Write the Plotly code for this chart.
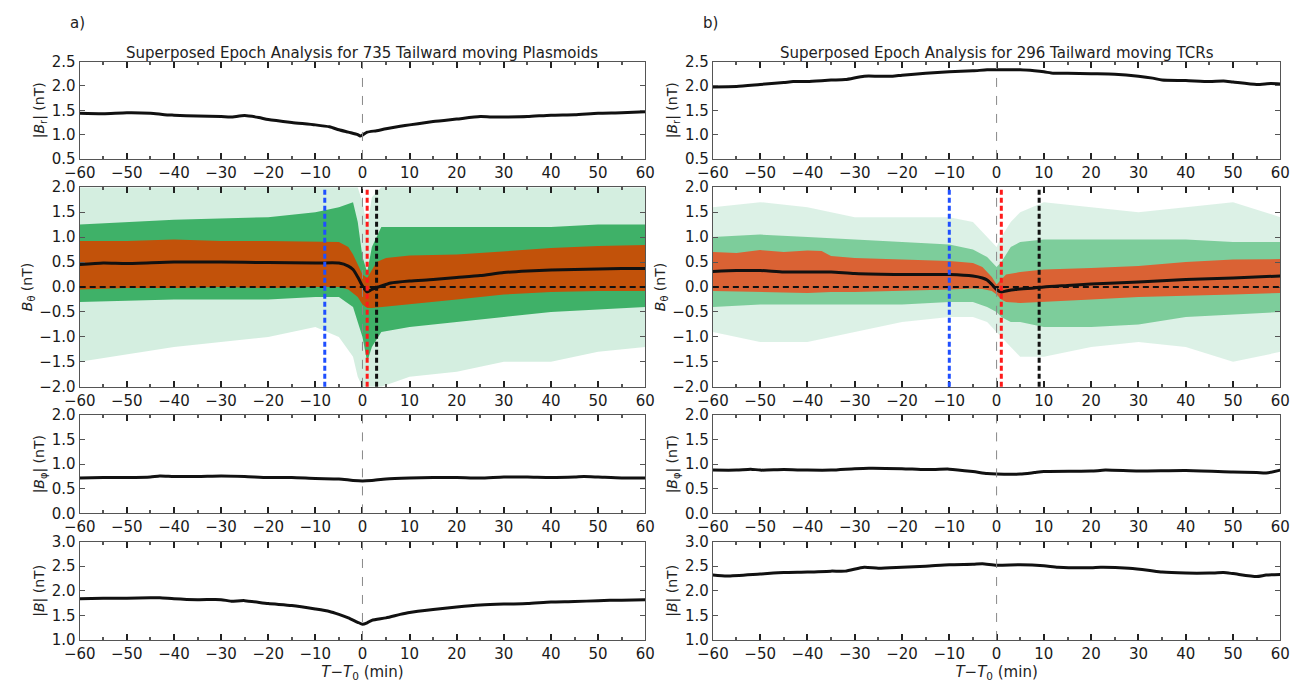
import plotly.graph_objects as go

W, H = 1306, 685

# ---------------- data ----------------
# Column a) 735 plasmoids
a_br_x = [-60, -55, -50, -45, -42, -40, -35, -30, -28, -25, -22, -20, -15, -10, -7, -5, -3, -1, -0.5, 0, 1, 3, 5, 8, 10, 15, 20, 25, 28, 30, 35, 40, 45, 50, 55, 60]
a_br_y = [1.44, 1.43, 1.45, 1.44, 1.41, 1.40, 1.38, 1.37, 1.36, 1.39, 1.35, 1.31, 1.25, 1.20, 1.16, 1.10, 1.05, 1.00, 0.97, 0.99, 1.05, 1.08, 1.12, 1.17, 1.20, 1.27, 1.32, 1.37, 1.36, 1.36, 1.37, 1.40, 1.41, 1.44, 1.45, 1.47]

a_bt_x = [-60, -55, -50, -40, -30, -20, -10, -5, -3, -2, -1, 0, 0.5, 1, 2, 4, 6, 10, 15, 20, 25, 30, 35, 40, 45, 50, 55, 60]
a_bt_med = [0.45, 0.48, 0.47, 0.50, 0.50, 0.49, 0.48, 0.48, 0.42, 0.35, 0.20, 0.02, -0.05, -0.10, -0.05, 0.02, 0.08, 0.12, 0.15, 0.19, 0.23, 0.29, 0.32, 0.34, 0.35, 0.36, 0.37, 0.37]

a_q_x = [-60, -50, -40, -30, -20, -10, -5, -3, -2, -1, 0, 1, 2, 3, 5, 10, 20, 30, 40, 50, 60]
a_q_hi = [0.92, 0.92, 0.95, 0.92, 0.92, 0.90, 0.90, 0.80, 0.65, 0.45, 0.25, 0.18, 0.35, 0.50, 0.58, 0.63, 0.65, 0.72, 0.78, 0.82, 0.84]
a_q_lo = [-0.05, -0.02, -0.02, 0.00, -0.02, 0.00, 0.00, -0.05, -0.12, -0.20, -0.35, -0.42, -0.42, -0.42, -0.40, -0.35, -0.25, -0.15, -0.10, -0.08, -0.08]

a_g_x = [-60, -40, -20, -10, -5, -2, -1, 0, 1, 2, 4, 10, 20, 30, 40, 50, 60]
a_g_hi = [1.25, 1.35, 1.40, 1.50, 1.60, 1.70, 1.30, 0.60, 0.30, 0.80, 1.20, 1.20, 1.20, 1.20, 1.20, 1.25, 1.25]
a_g_lo = [-0.30, -0.25, -0.25, -0.20, -0.20, -0.40, -0.70, -1.00, -1.50, -1.20, -0.90, -0.80, -0.70, -0.60, -0.50, -0.45, -0.40]
a_s_hi = [2.00, 2.00, 2.00, 2.00, 2.00, 2.00, 2.00, 1.70, 1.20, 1.80, 2.00, 2.00, 2.00, 2.00, 2.00, 2.00, 2.00]
a_s_lo = [-1.50, -1.20, -1.00, -0.80, -1.00, -1.40, -1.80, -2.00, -2.00, -2.00, -2.00, -1.80, -1.70, -1.50, -1.50, -1.30, -1.20]

a_bp_x = [-60, -55, -50, -45, -43, -40, -35, -30, -25, -20, -15, -10, -5, -2, 0, 2, 5, 10, 15, 20, 25, 30, 35, 40, 45, 47, 50, 55, 60]
a_bp_y = [0.72, 0.73, 0.73, 0.74, 0.76, 0.75, 0.75, 0.76, 0.75, 0.73, 0.73, 0.71, 0.70, 0.67, 0.66, 0.67, 0.70, 0.72, 0.73, 0.73, 0.72, 0.74, 0.74, 0.73, 0.74, 0.75, 0.74, 0.72, 0.72]

a_b_x = [-60, -55, -50, -45, -43, -40, -35, -30, -28, -25, -20, -15, -10, -7, -5, -3, -1, 0, 1, 2, 5, 8, 10, 15, 20, 25, 30, 35, 40, 45, 50, 55, 60]
a_b_y = [1.84, 1.85, 1.85, 1.86, 1.86, 1.84, 1.82, 1.82, 1.79, 1.80, 1.74, 1.70, 1.63, 1.58, 1.52, 1.45, 1.36, 1.32, 1.35, 1.40, 1.45, 1.52, 1.56, 1.62, 1.67, 1.71, 1.73, 1.74, 1.77, 1.78, 1.80, 1.81, 1.82]

a_epochs = [-8, 1, 3]

# Column b) 296 TCRs
b_br_x = [-60, -55, -50, -45, -43, -40, -35, -32, -28, -25, -22, -20, -15, -10, -5, -2, 0, 5, 8, 10, 12, 15, 20, 25, 30, 33, 35, 40, 45, 48, 50, 55, 58, 60]
b_br_y = [1.98, 1.99, 2.03, 2.07, 2.09, 2.09, 2.12, 2.13, 2.20, 2.20, 2.20, 2.22, 2.26, 2.29, 2.31, 2.33, 2.33, 2.33, 2.31, 2.29, 2.26, 2.26, 2.25, 2.24, 2.20, 2.16, 2.12, 2.11, 2.09, 2.10, 2.08, 2.03, 2.05, 2.04]

b_bt_x = [-60, -55, -50, -45, -40, -35, -30, -20, -10, -5, -3, -2, -1, 0, 1, 2, 4, 8, 10, 15, 20, 30, 40, 50, 60]
b_bt_med = [0.31, 0.33, 0.33, 0.30, 0.30, 0.30, 0.27, 0.25, 0.25, 0.22, 0.18, 0.14, 0.05, -0.05, -0.10, -0.08, -0.05, -0.02, 0.00, 0.03, 0.06, 0.10, 0.15, 0.18, 0.22]

b_q_x = [-60, -55, -50, -45, -40, -37, -35, -30, -20, -10, -5, -3, -1, 0, 1, 2, 5, 10, 20, 30, 40, 50, 60]
b_q_hi = [0.70, 0.68, 0.74, 0.70, 0.73, 0.72, 0.62, 0.58, 0.55, 0.52, 0.48, 0.40, 0.20, 0.05, 0.15, 0.25, 0.30, 0.35, 0.38, 0.42, 0.50, 0.55, 0.56]
b_q_lo = [-0.08, -0.09, -0.10, -0.11, -0.12, -0.11, -0.10, -0.10, -0.08, -0.05, -0.03, -0.04, -0.08, -0.15, -0.25, -0.30, -0.32, -0.30, -0.25, -0.20, -0.18, -0.15, -0.12]

b_g_x = [-60, -50, -40, -30, -20, -10, -5, -2, 0, 1, 3, 5, 10, 20, 30, 40, 50, 60]
b_g_hi = [1.00, 1.05, 1.00, 0.95, 0.90, 0.85, 0.75, 0.60, 0.40, 0.50, 0.80, 0.90, 0.95, 0.95, 0.95, 0.95, 0.90, 0.90]
b_g_lo = [-0.40, -0.35, -0.35, -0.35, -0.35, -0.30, -0.30, -0.40, -0.50, -0.60, -0.70, -0.70, -0.80, -0.80, -0.75, -0.60, -0.55, -0.50]
b_s_hi = [1.60, 1.70, 1.60, 1.40, 1.40, 1.40, 1.30, 1.00, 0.80, 1.00, 1.30, 1.50, 1.70, 1.60, 1.50, 1.60, 1.70, 1.40]
b_s_lo = [-0.90, -1.10, -1.10, -0.90, -0.70, -0.60, -0.60, -0.70, -0.90, -1.00, -1.20, -1.40, -1.40, -1.20, -1.10, -1.20, -1.50, -1.30]

b_bp_x = [-60, -55, -52, -50, -45, -40, -35, -30, -27, -20, -15, -10, -5, -2, 0, 5, 8, 10, 20, 23, 30, 40, 50, 55, 57, 60]
b_bp_y = [0.88, 0.88, 0.90, 0.88, 0.89, 0.88, 0.88, 0.91, 0.92, 0.91, 0.89, 0.90, 0.85, 0.81, 0.80, 0.80, 0.83, 0.85, 0.86, 0.88, 0.86, 0.87, 0.84, 0.83, 0.82, 0.88]

b_b_x = [-60, -57, -50, -45, -40, -35, -32, -28, -25, -20, -15, -10, -5, -3, 0, 5, 10, 13, 20, 22, 28, 32, 35, 40, 45, 48, 50, 55, 57, 60]
b_b_y = [2.32, 2.30, 2.34, 2.37, 2.38, 2.40, 2.40, 2.48, 2.46, 2.48, 2.50, 2.53, 2.54, 2.55, 2.52, 2.53, 2.51, 2.48, 2.47, 2.48, 2.46, 2.42, 2.38, 2.36, 2.36, 2.37, 2.35, 2.29, 2.32, 2.33]

b_epochs = [-10, 1, 9]

titles = ["Superposed Epoch Analysis for 735 Tailward moving Plasmoids",
          "Superposed Epoch Analysis for 296 Tailward moving TCRs"]
panel_labels = ["a)", "b)"]
y_titles = ["|<i>B</i><sub>r</sub>| (nT)", "<i>B</i><sub>θ</sub> (nT)",
            "|<i>B</i><sub>φ</sub>| (nT)", "|<i>B</i>| (nT)"]
y_ranges = [[0.5, 2.5], [-2.0, 2.0], [0.0, 2.0], [1.0, 3.0]]
x_title = "<i>T</i>−<i>T</i><sub>0</sub> (min)"
epoch_colors = ["#1f4fff", "#ff1a1a", "#111111"]

# ---------------- layout geometry (pixels) ----------------
col_px = [(65, 642), (711, 1290)]
row_px = [(54, 154), (183, 388), (417, 518), (547, 648)]

FONT = "DejaVu Sans"
fig = go.Figure()
layout = dict(
    width=W, height=H, margin=dict(l=0, r=0, t=0, b=0),
    paper_bgcolor="white", plot_bgcolor="white", showlegend=False,
    font=dict(family=FONT, size=14, color="#222"),
)

def ax_id(c, r):
    return c * 4 + r + 1

for c in range(2):
    for r in range(4):
        i = ax_id(c, r)
        xa = "xaxis" if i == 1 else f"xaxis{i}"
        ya = "yaxis" if i == 1 else f"yaxis{i}"
        x0, x1 = col_px[c]
        y0, y1 = row_px[r]
        layout[xa] = dict(
            domain=[x0 / W, x1 / W], anchor=f"y{i}" if i > 1 else "y",
            range=[-60, 60], tickmode="linear", tick0=-60, dtick=10,
            ticks="inside", ticklen=6, tickwidth=1.5, tickcolor="#222",
            mirror="allticks", showline=True, linecolor="#555", linewidth=1.2,
            showgrid=False, zeroline=False,
            tickfont=dict(family=FONT, size=15, color="#1a1a1a"),
            minor=dict(ticks="inside", ticklen=3, dtick=5, tick0=-60, tickcolor="#555", showgrid=False),
            title=dict(text=x_title if r == 3 else "", font=dict(family=FONT, size=15, color="#222"), standoff=2),
        )
        layout[ya] = dict(
            domain=[1 - y1 / H, 1 - y0 / H], anchor=f"x{i}" if i > 1 else "x",
            range=y_ranges[r], dtick=0.5, ticks="inside", ticklen=5, tickwidth=1,
            tickcolor="#555", mirror="allticks", showline=True, linecolor="#555", linewidth=1.2,
            showgrid=False, zeroline=False, tickformat=".1f",
            tickfont=dict(family=FONT, size=15, color="#1a1a1a"),
            title=dict(text=y_titles[r], font=dict(family=FONT, size=14, color="#222"), standoff=3),
        )

def band(xs, lo, hi, color, xref, yref):
    fig.add_trace(go.Scatter(
        x=list(xs) + list(xs)[::-1], y=list(hi) + list(lo)[::-1],
        fill="toself", fillcolor=color, line=dict(width=0), mode="lines",
        xaxis=xref, yaxis=yref, hoverinfo="skip"))

def line(xs, ys, xref, yref, width=3):
    fig.add_trace(go.Scatter(x=xs, y=ys, mode="lines", line=dict(color="#111", width=width, shape="spline", smoothing=0.6),
                             xaxis=xref, yaxis=yref))

cols = [
    dict(br=(a_br_x, a_br_y), bt=(a_bt_x, a_bt_med), q=(a_q_x, a_q_lo, a_q_hi),
         g=(a_g_x, a_g_lo, a_g_hi, a_s_lo, a_s_hi), bp=(a_bp_x, a_bp_y), b=(a_b_x, a_b_y),
         ep=a_epochs, orange="rgba(194,82,10,1)", dense="rgba(20,160,70,0.78)", sparse="rgba(40,170,100,0.20)"),
    dict(br=(b_br_x, b_br_y), bt=(b_bt_x, b_bt_med), q=(b_q_x, b_q_lo, b_q_hi),
         g=(b_g_x, b_g_lo, b_g_hi, b_s_lo, b_s_hi), bp=(b_bp_x, b_bp_y), b=(b_b_x, b_b_y),
         ep=b_epochs, orange="rgba(218,98,52,1)", dense="rgba(30,170,80,0.50)", sparse="rgba(40,170,100,0.16)"),
]

shapes = []
annotations = []
for c, d in enumerate(cols):
    ids = [ax_id(c, r) for r in range(4)]
    refs = [("x" if i == 1 else f"x{i}", "y" if i == 1 else f"y{i}") for i in ids]
    line(*d["br"], *refs[0])
    gx, glo, ghi, slo, shi = d["g"]
    band(gx, slo, shi, d["sparse"], *refs[1])
    band(gx, glo, ghi, d["dense"], *refs[1])
    qx, qlo, qhi = d["q"]
    band(qx, qlo, qhi, d["orange"], *refs[1])
    line(*d["bt"], *refs[1])
    line(*d["bp"], *refs[2])
    line(*d["b"], *refs[3])
    for (xr, yr) in refs:
        shapes.append(dict(type="line", xref=xr, yref=f"{yr} domain", x0=0, x1=0, y0=0, y1=1,
                           line=dict(color="#888", width=1, dash="dash"), layer="above"))
    xr, yr = refs[1]
    shapes.append(dict(type="line", xref=f"{xr} domain", yref=yr, x0=0, x1=1, y0=0, y1=0,
                       line=dict(color="#111", width=2, dash="6px,4px"), layer="above"))
    for ev, col in zip(d["ep"], epoch_colors):
        shapes.append(dict(type="line", xref=xr, yref=f"{yr} domain", x0=ev, x1=ev, y0=0, y1=1,
                           line=dict(color=col, width=3, dash="5px,3px"), layer="above"))
    x0, x1 = col_px[c]
    annotations.append(dict(text=titles[c], xref="paper", yref="paper", x=(x0 + x1) / 2 / W, y=1 - 45 / H,
                            showarrow=False, font=dict(family=FONT, size=15, color="#222"), xanchor="center", yanchor="middle"))
    annotations.append(dict(text=panel_labels[c], xref="paper", yref="paper", x=(x0 - 12) / W, y=1 - 14 / H,
                            showarrow=False, font=dict(family=FONT, size=15, color="#222"), xanchor="left", yanchor="middle"))

layout["shapes"] = shapes
layout["annotations"] = annotations
fig.update_layout(**layout)
fig.write_html("out.html")
